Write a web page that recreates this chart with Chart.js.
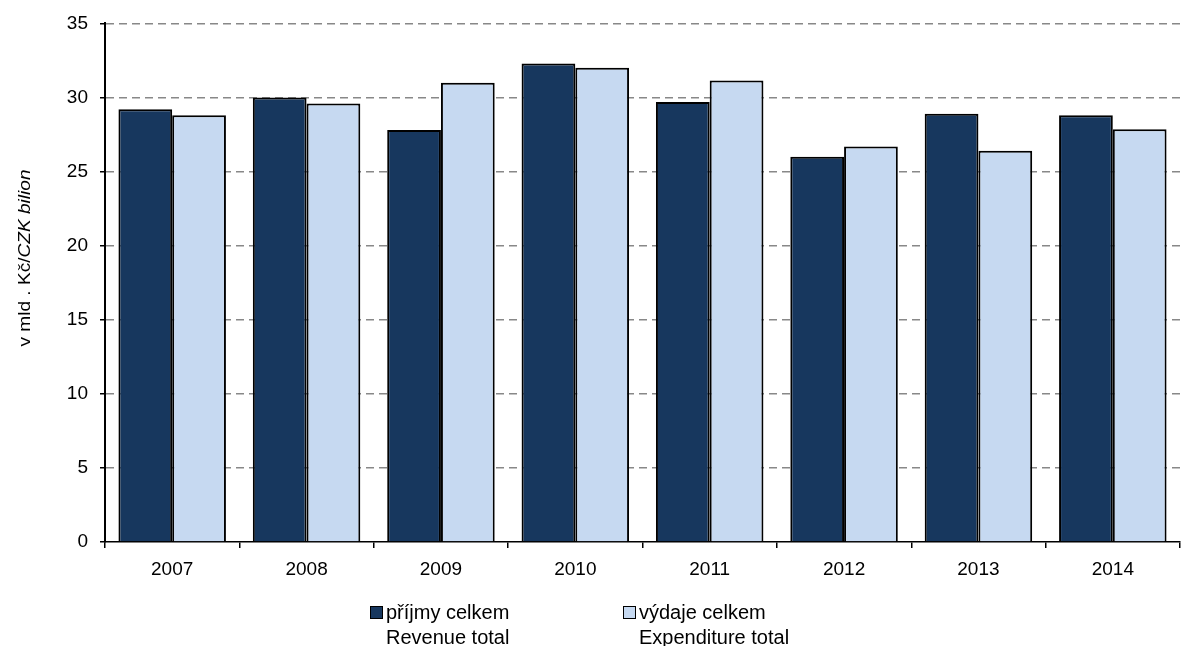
<!DOCTYPE html>
<html>
<head>
<meta charset="utf-8">
<script src="https://cdn.jsdelivr.net/npm/chart.js@4/dist/chart.umd.min.js"></script>
<style>
  html, body { margin: 0; padding: 0; background: #fff; }
  #wrap { position: relative; width: 1181px; height: 646px; overflow: hidden; }
  #legend { position: absolute; top: 600px; left: 370px; font-family: "Liberation Sans", Arial, sans-serif; font-size: 20px; color: #000; }
  .item { position: absolute; top: 0; white-space: nowrap; line-height: 25px; }
  .box { position: absolute; left: 0; top: 6px; width: 13px; height: 13px; border: 1.5px solid #000; box-sizing: border-box; }
  .txt { position: absolute; left: 16px; top: 0; }
</style>
</head>
<body>
<div id="wrap">
  <canvas id="chart" width="1181" height="646"></canvas>
  <div id="legend"></div>
</div>
<script>
// Data
const years = ["2007", "2008", "2009", "2010", "2011", "2012", "2013", "2014"];
const revenue = [29.2, 30.0, 27.8, 32.3, 29.7, 26.0, 28.9, 28.8];
const expenditure = [28.8, 29.6, 31.0, 32.0, 31.15, 26.7, 26.4, 27.85];
const seriesNames = [["příjmy celkem", "Revenue total"], ["výdaje celkem", "Expenditure total"]];
const seriesColors = ["#17375E", "#C6D9F1"];

const FONT = '"Liberation Sans", Arial, sans-serif';

// Y axis title with mixed upright / italic text
const yTitle = {
  id: "yTitle",
  afterDraw(chart) {
    const ctx = chart.ctx;
    const a = "v mld . Kč/";
    const b = "CZK bilion";
    ctx.save();
    ctx.translate(25, 258);
    ctx.rotate(-Math.PI / 2);
    ctx.fillStyle = "#000";
    ctx.textBaseline = "middle";
    ctx.font = "17px " + FONT;
    const wa = ctx.measureText(a).width;
    ctx.font = "italic 17px " + FONT;
    const wb = ctx.measureText(b).width;
    // stretch along the text to the length seen in the picture
    const k = 177 / (wa + wb);
    ctx.scale(k, 1);
    let x = -(wa + wb) / 2;
    ctx.font = "17px " + FONT;
    ctx.fillText(a, x, 0);
    ctx.font = "italic 17px " + FONT;
    ctx.fillText(b, x + wa, 0);
    ctx.restore();
  }
};

const ctx = document.getElementById("chart");
new Chart(ctx, {
  type: "bar",
  data: {
    labels: years,
    datasets: [
      {
        label: seriesNames[0].join(" "),
        data: revenue,
        backgroundColor: seriesColors[0],
        borderColor: "#000",
        borderWidth: 2,
        categoryPercentage: 0.8,
        barPercentage: 1.0,
      },
      {
        label: seriesNames[1].join(" "),
        data: expenditure,
        backgroundColor: seriesColors[1],
        borderColor: "#000",
        borderWidth: 2,
        categoryPercentage: 0.8,
        barPercentage: 1.0,
      },
    ],
  },
  options: {
    responsive: false,
    animation: false,
    layout: { padding: { top: 23, right: 1, left: 0, bottom: 64 } },
    plugins: {
      legend: { display: false },
      tooltip: { enabled: false },
    },
    scales: {
      x: {
        afterFit(scale) { scale.height = 40; },
        grid: {
          drawOnChartArea: false,
          tickColor: "#000",
          tickLength: 6,
          lineWidth: 1.5,
        },
        border: { color: "#000", width: 1.5 },
        ticks: {
          color: "#000",
          padding: 10,
          font: { family: "Liberation Sans", size: 19 },
        },
      },
      y: {
        min: 0,
        max: 35,
        afterFit(scale) { scale.width = 105; },
        grid: {
          color: (c) => (c.tick && c.tick.value === 0 ? "rgba(0,0,0,0)" : "#888"),
          lineWidth: 1.5,
          tickColor: "#000",
          tickLength: 5,
          tickWidth: 1.5,
        },
        border: { color: "#000", width: 2, dash: [8, 5] },
        ticks: {
          stepSize: 5,
          color: "#000",
          padding: 12,
          font: { family: "Liberation Sans", size: 19 },
        },
      },
    },
  },
  plugins: [yTitle],
});

// HTML legend with two-line labels
const legend = document.getElementById("legend");
seriesNames.forEach((names, i) => {
  const item = document.createElement("div");
  item.className = "item";
  item.style.left = i * 253 + "px";
  item.innerHTML =
    '<span class="box" style="background:' + seriesColors[i] + '"></span>' +
    '<span class="txt">' + names[0] + "<br>" + names[1] + "</span>";
  legend.appendChild(item);
});
</script>
</body>
</html>
